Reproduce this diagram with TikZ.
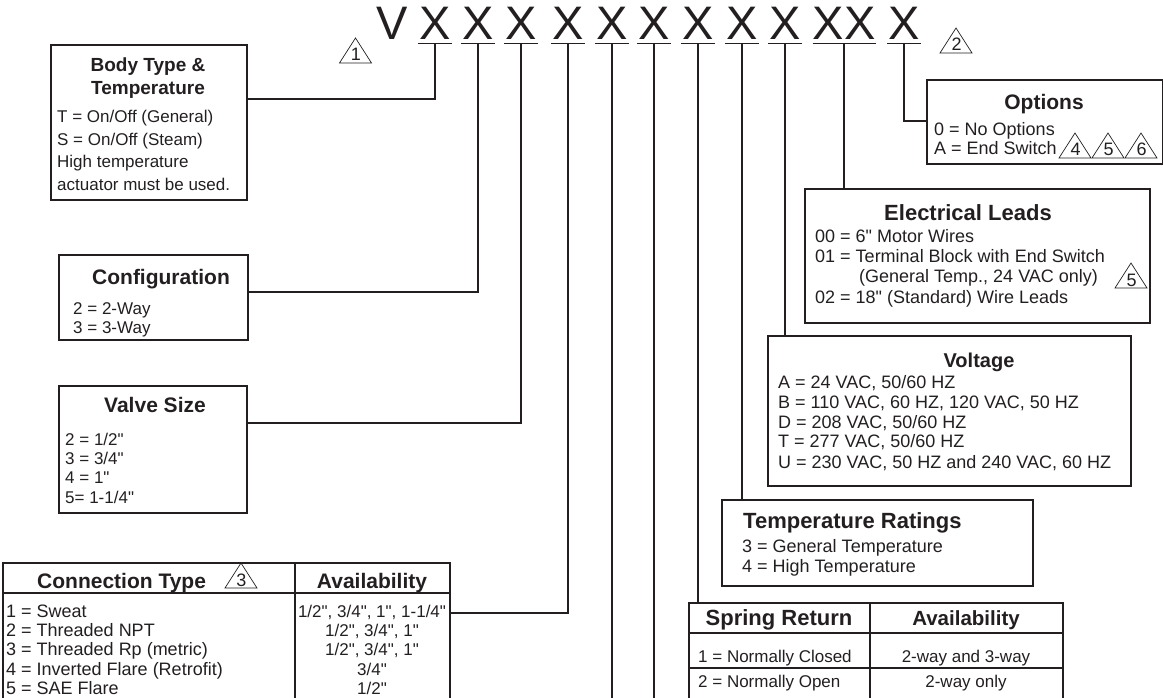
\documentclass[tikz,border=0pt]{standalone}
\usepackage{fontspec}
\setmainfont{Liberation Sans}[Ligatures=TeXOff]
\definecolor{ink}{HTML}{231F20}
\newcommand\warntri[4]{%
  \draw[tri] ({#2-16},{#3}) -- ({#2},{#3-25}) -- ({#2+16},{#3}) -- cycle;
  \node[trinum] (#1) at ({#2+0.5},{#3-2}) {#4};}
\begin{document}
\begin{tikzpicture}[x=1pt,y=-1pt,
  wire/.style={line width=1.8pt, draw=ink},
  box/.style={draw=ink, line width=1.6pt, inner sep=0pt, anchor=north west},
  rule/.style={draw=ink, line width=1.4pt},
  ttl/.style={font=\bfseries\fontsize{21}{21}\selectfont, text=ink, inner sep=0pt, anchor=base},
  txt/.style={font=\fontsize{18}{18}\selectfont, text=ink, inner sep=0pt, anchor=base west},
  stxt/.style={font=\fontsize{17}{17}\selectfont, text=ink, inner sep=0pt, anchor=base west},
  ctxt/.style={font=\fontsize{17}{17}\selectfont, text=ink, inner sep=0pt, anchor=base},
  big/.style={font=\fontsize{47}{47}\selectfont, text=ink, inner sep=0pt, anchor=base},
  tri/.style={draw=ink, line width=0.7pt, line join=miter},
  trinum/.style={font=\fontsize{18}{18}\selectfont, text=ink, inner sep=0pt, anchor=base}]
\useasboundingbox (0,0) rectangle (1163,698);
\clip (0,0) rectangle (1163,698);

% ---------- header ----------
\node[big] (V) at (392,40) {V};
\foreach \n/\x in {1/435,2/478,3/521,4/568,5/612,6/654,7/698,8/742,9/785,11/904}{
  \node[big] (X\n) at (\x,40) {X};
  \coordinate (u\n) at (\x,43.5);
  \draw[wire] ([xshift=-17pt]u\n) -- ([xshift=17pt]u\n);
}
\node[big] (X10) at (844,40) {XX};
\coordinate (u10) at (844,43.5);
\draw[wire] ([xshift=-31.5pt]u10) -- ([xshift=31.5pt]u10);
\warntri{t1}{355.5}{63}{1}
\warntri{t2}{956}{53}{2}

% ---------- Body type ----------
\node[box, minimum width=196pt, minimum height=155pt] (body) at (50,44) {};
\node[ttl, font=\bfseries\fontsize{19}{19}\selectfont] (bodyt1) at (148,72) {Body Type \&};
\node[ttl, font=\bfseries\fontsize{19}{19}\selectfont] (bodyt2) at (148,95) {Temperature};
\node[stxt] (body1) at (57,123) {T = On/Off (General)};
\node[stxt] (body2) at (57,146) {S = On/Off (Steam)};
\node[stxt] (body3) at (57,168) {High temperature};
\node[stxt] (body4) at (57,190) {actuator must be used.};
\draw[wire] (u1) |- ([yshift=-55pt]body.north east);

% ---------- Configuration ----------
\node[box, minimum width=189pt, minimum height=85pt] (conf) at (58,254) {};
\node[ttl] (conft) at (161,284) {Configuration};
\node[stxt] (conf1) at (73,314) {2 = 2-Way};
\node[stxt] (conf2) at (73,333) {3 = 3-Way};
\draw[wire] (u2) |- ([yshift=-38pt]conf.north east);

% ---------- Valve size ----------
\node[box, minimum width=188pt, minimum height=127pt] (valve) at (58,385) {};
\node[ttl] (valvet) at (155,412) {Valve Size};
\node[stxt] (valve1) at (65,445) {2 = 1/2"};
\node[stxt] (valve2) at (65,464) {3 = 3/4"};
\node[stxt] (valve3) at (65,483) {4 = 1"};
\node[stxt] (valve4) at (65,503) {5= 1-1/4"};
\draw[wire] (u3) |- ([yshift=-38pt]valve.north east);

% ---------- Connection type table ----------
\node[box, minimum width=447pt, minimum height=145pt] (conn) at (2,562) {};
\draw[rule] ([xshift=293pt]conn.north west) -- ++(0,145);
\draw[rule] ([yshift=-31pt]conn.north west) -- ([yshift=-31pt]conn.north east);
\node[ttl, anchor=base west] (connt) at (37,588) {Connection Type};
\warntri{t3}{241}{588}{3}
\node[ttl] (conna) at (372,588) {Availability};
\node[txt] (conn1) at (6,617) {1 = Sweat};
\node[txt] (conn2) at (6,636) {2 = Threaded NPT};
\node[txt] (conn3) at (6,655) {3 = Threaded Rp (metric)};
\node[txt] (conn4) at (6,675) {4 = Inverted Flare (Retrofit)};
\node[txt] (conn5) at (6,694) {5 = SAE Flare};
\node[ctxt] (conna1) at (372,617) {1/2", 3/4", 1", 1-1/4"};
\node[ctxt] (conna2) at (372,636) {1/2", 3/4", 1"};
\node[ctxt] (conna3) at (372,655) {1/2", 3/4", 1"};
\node[ctxt] (conna4) at (372,675) {3/4"};
\node[ctxt] (conna5) at (372,694) {1/2"};
\draw[wire] (u4) |- ([yshift=-51pt]conn.north east);

% ---------- long lines ----------
\coordinate (e5) at (612,700);
\coordinate (e6) at (654,700);
\draw[wire] (u5) -- (e5);
\draw[wire] (u6) -- (e6);

% ---------- Spring return table ----------
\node[box, minimum width=374pt, minimum height=105pt] (spring) at (688,602) {};
\draw[rule] ([xshift=182pt]spring.north west) -- ++(0,105);
\draw[rule] ([yshift=-31pt]spring.north west) -- ([yshift=-31pt]spring.north east);
\draw[rule] ([yshift=-66pt]spring.north west) -- ([yshift=-66pt]spring.north east);
\node[ttl, font=\bfseries\fontsize{22}{22}\selectfont] (springt) at (779,625) {Spring Return};
\node[ttl, font=\bfseries\fontsize{20.5}{20.5}\selectfont] (springa) at (966,625) {Availability};
\node[stxt] (spring1) at (698,662) {1 = Normally Closed};
\node[stxt] (spring2) at (698,687) {2 = Normally Open};
\node[ctxt] (springa1) at (966,662) {2-way and 3-way};
\node[ctxt] (springa2) at (966,687) {2-way only};
\draw[wire] (u7) -- (u7 |- spring.north);

% ---------- Temperature ratings ----------
\node[box, minimum width=311pt, minimum height=86pt] (temp) at (721,499) {};
\node[ttl, anchor=base west, font=\bfseries\fontsize{22}{22}\selectfont] (tempt) at (743,528) {Temperature Ratings};
\node[txt] (temp1) at (742,552) {3 = General Temperature};
\node[txt] (temp2) at (742,572) {4 = High Temperature};
\draw[wire] (u8) -- (u8 |- temp.north);

% ---------- Voltage ----------
\node[box, minimum width=363pt, minimum height=150pt] (volt) at (767,335) {};
\node[ttl, font=\bfseries\fontsize{20}{20}\selectfont] (voltt) at (979,367) {Voltage};
\node[txt] (volt1) at (778,388) {A = 24 VAC, 50/60 HZ};
\node[txt] (volt2) at (778,408) {B = 110 VAC, 60 HZ, 120 VAC, 50 HZ};
\node[txt] (volt3) at (778,428) {D = 208 VAC, 50/60 HZ};
\node[txt] (volt4) at (778,447) {T = 277 VAC, 50/60 HZ};
\node[txt] (volt5) at (778,468) {U = 230 VAC, 50 HZ and 240 VAC, 60 HZ};
\draw[wire] (u9) -- (u9 |- volt.north);

% ---------- Electrical leads ----------
\node[box, minimum width=345pt, minimum height=134pt] (elec) at (804,188) {};
\node[ttl, font=\bfseries\fontsize{22}{22}\selectfont] (elect) at (968,221) {Electrical Leads};
\node[txt] (elec1) at (815,242) {00 = 6" Motor Wires};
\node[txt] (elec2) at (815,262) {01 = Terminal Block with End Switch};
\node[txt] (elec3) at (859,282) {(General Temp., 24 VAC only)};
\node[txt] (elec4) at (815,303) {02 = 18" (Standard) Wire Leads};
\warntri{t5b}{1131}{288}{5}
\draw[wire] (u10) -- (u10 |- elec.north);

% ---------- Options ----------
\node[box, minimum width=236pt, minimum height=84pt] (opt) at (926,79) {};
\node[ttl] (optt) at (1044,110) {Options};
\node[txt] (opt1) at (934,136) {0 = No Options};
\node[txt] (opt2) at (934,155) {A = End Switch};
\warntri{t4}{1075}{158}{4}
\warntri{t5}{1108}{158}{5}
\warntri{t6}{1141}{158}{6}
\draw[wire] (u11) |- ([yshift=-42pt]opt.north west);
\end{tikzpicture}
\end{document}
